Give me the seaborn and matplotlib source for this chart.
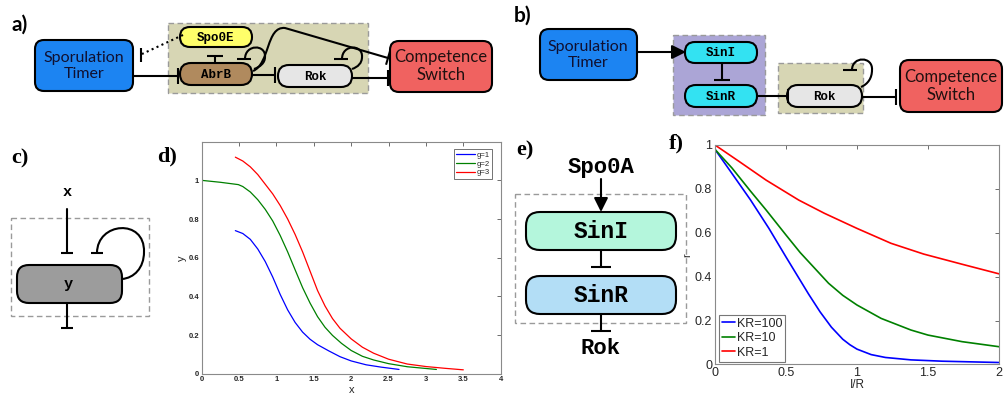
import numpy as np
import matplotlib
matplotlib.use("Agg")
import matplotlib.pyplot as plt
import seaborn as sns
import pandas as pd
from matplotlib.patches import FancyBboxPatch, Rectangle, PathPatch
from matplotlib.path import Path

# ---------------- data: panel d (steady state y vs input x) ----------------
d_labels = ["g=1", "g=2", "g=3"]
d_x_g1 = [0.45, 0.55, 0.65, 0.75, 0.85, 0.95, 1.05, 1.15, 1.25, 1.35, 1.45, 1.55, 1.7, 1.85, 2.0, 2.2, 2.4, 2.64]
d_y_g1 = [0.74, 0.725, 0.695, 0.645, 0.58, 0.50, 0.41, 0.33, 0.265, 0.215, 0.178, 0.15, 0.118, 0.088, 0.066, 0.046, 0.034, 0.022]
d_x_g2 = [0.0, 0.25, 0.49, 0.55, 0.65, 0.75, 0.85, 0.95, 1.05, 1.15, 1.25, 1.35, 1.45, 1.55, 1.65, 1.75, 1.87, 2.0, 2.15, 2.3, 2.5, 2.75, 3.0, 3.14]
d_y_g2 = [1.0, 0.99, 0.978, 0.968, 0.94, 0.9, 0.85, 0.79, 0.715, 0.63, 0.537, 0.445, 0.365, 0.295, 0.24, 0.198, 0.157, 0.12, 0.09, 0.071, 0.052, 0.036, 0.027, 0.022]
d_x_g3 = [0.45, 0.55, 0.65, 0.75, 0.85, 0.95, 1.05, 1.15, 1.25, 1.35, 1.45, 1.55, 1.65, 1.75, 1.85, 2.0, 2.15, 2.3, 2.5, 2.75, 3.0, 3.25, 3.5]
d_y_g3 = [1.12, 1.10, 1.07, 1.03, 0.98, 0.93, 0.87, 0.80, 0.72, 0.63, 0.53, 0.43, 0.35, 0.285, 0.235, 0.18, 0.137, 0.106, 0.075, 0.05, 0.037, 0.028, 0.02]

# ---------------- data: panel f (r vs I/R) ----------------
f_labels = ["KR=100", "KR=10", "KR=1"]
f_x_100 = [0.0, 0.12, 0.25, 0.38, 0.5, 0.58, 0.66, 0.74, 0.82, 0.9, 0.95, 1.0, 1.1, 1.2, 1.38, 1.6, 1.8, 2.0]
f_y_100 = [0.98, 0.87, 0.75, 0.62, 0.49, 0.405, 0.32, 0.24, 0.17, 0.115, 0.09, 0.07, 0.045, 0.032, 0.021, 0.015, 0.012, 0.009]
f_x_10 = [0.0, 0.12, 0.25, 0.36, 0.5, 0.6, 0.7, 0.8, 0.9, 1.0, 1.17, 1.38, 1.5, 1.74, 2.0]
f_y_10 = [0.98, 0.895, 0.79, 0.704, 0.59, 0.51, 0.44, 0.37, 0.315, 0.271, 0.21, 0.157, 0.134, 0.104, 0.081]
f_x_1 = [0.0, 0.17, 0.36, 0.59, 0.77, 1.0, 1.24, 1.47, 1.75, 2.0]
f_y_1 = [1.0, 0.925, 0.84, 0.749, 0.689, 0.62, 0.552, 0.503, 0.455, 0.413]

d_ticks_x = [0, 0.5, 1, 1.5, 2, 2.5, 3, 3.5, 4]
d_ticks_y = [0, 0.2, 0.4, 0.6, 0.8, 1]
f_ticks_x = [0, 0.5, 1, 1.5, 2]
f_ticks_y = [0, 0.2, 0.4, 0.6, 0.8, 1]

line_colors = ["#0000ff", "#008000", "#ff0000"]

sns.set_theme(style="white")
plt.rcParams["font.family"] = ["Liberation Sans", "DejaVu Sans"]

fig = plt.figure(figsize=(10.05, 3.97), dpi=100)

# ---------------- diagram layer in pixel coordinates ----------------
ax0 = fig.add_axes([0, 0, 1, 1])
ax0.set_xlim(0, 1005)
ax0.set_ylim(397, 0)
ax0.axis("off")

LW = 1.5
SANS = "Lato"
MONO = "Liberation Mono"
SERIF = "Liberation Serif"


def rbox(x0, y0, x1, y1, fc, r, ec="black", lw=LW, ls="-", z=2):
    p = FancyBboxPatch((x0, y0), x1 - x0, y1 - y0,
                       boxstyle=f"round,pad=0,rounding_size={r}",
                       fc=fc, ec=ec, lw=lw, ls=ls, zorder=z)
    ax0.add_patch(p)


def region(x0, y0, x1, y1, fc):
    ax0.add_patch(Rectangle((x0, y0), x1 - x0, y1 - y0, fc=fc, ec="#9a9a9a",
                            lw=1.0, ls=(0, (4, 2.5)), zorder=1))


def bar(p, direction, half=7):
    d = np.array(direction, float)
    d /= np.hypot(*d)
    n = np.array([-d[1], d[0]])
    p = np.array(p, float)
    a, b = p - n * half, p + n * half
    ax0.plot([a[0], b[0]], [a[1], b[1]], color="black", lw=LW,
             solid_capstyle="butt", zorder=3)


def inhibit(p0, p1, half=7, ls="-"):
    ax0.plot([p0[0], p1[0]], [p0[1], p1[1]], color="black", lw=LW, ls=ls,
             zorder=3)
    bar(p1, (p1[0] - p0[0], p1[1] - p0[1]), half)


def curve(verts, codes):
    ax0.add_patch(PathPatch(Path(verts, codes), fc="none", ec="black", lw=LW,
                            zorder=3))


def arrow(p0, p1):
    ax0.annotate("", xy=p1, xytext=p0,
                 arrowprops=dict(arrowstyle="-|>,head_length=0.7,head_width=0.35",
                                 lw=LW, color="black", shrinkA=0, shrinkB=0,
                                 mutation_scale=12), zorder=3)


def label(x, y, s, size, family, weight="normal", color="black", ha="center"):
    ax0.text(x, y, s, fontsize=size, family=family, weight=weight, color=color,
             ha=ha, va="center", zorder=4)


M4 = [Path.MOVETO, Path.CURVE4, Path.CURVE4, Path.CURVE4]

# ----- panel a -----
label(11, 25, "a)", 15, SANS, "bold", ha="left")
region(168, 23, 368, 93, "#d7d6b4")
rbox(35, 40, 133, 91, "#1c84f2", 9)
label(84, 66, "Sporulation\nTimer", 11.5, SANS, color="#101030")
rbox(390, 41, 492, 92, "#f06260", 9)
label(441, 66, "Competence\nSwitch", 12, SANS, color="#201010")
rbox(180, 27, 252, 47, "#ffff6a", 10)
label(216, 37.5, "Spo0E", 9, MONO, "bold")
rbox(180, 63, 252, 85, "#b08a5e", 11)
label(216, 74.5, "AbrB", 9, MONO, "bold")
rbox(278, 65, 352, 87, "#e6e6e6", 11)
label(315, 76.5, "Rok", 9, MONO, "bold")
inhibit((133, 76), (178, 76), 8)
# Spo0E acting on the timer (dotted, flat-headed)
ax0.plot([183, 142], [35, 54], color="black", lw=LW, ls=(0, (1, 1.6)), zorder=3)
bar((141, 55), (1, 0), 7)
inhibit((215, 63), (215, 56), 8)
inhibit((252, 75), (275, 75), 8)
inhibit((352, 78), (388, 78), 8)
# AbrB repression of the competence switch
curve([(253, 71), (270, 64), (266, 26), (285, 28)], M4)
inhibit((285, 28), (388, 58), 7)
# AbrB autorepression loop
curve([(245, 59), (245, 44), (266, 44), (265, 57)], M4)
curve([(265, 57), (265, 63), (260, 67), (254, 69)], M4)
bar((244, 59), (0, 1), 7)
# Rok autorepression loop
curve([(342, 59), (342, 44), (363, 44), (362, 57)], M4)
curve([(362, 57), (362, 63), (358, 67), (352, 69)], M4)
bar((341, 59), (0, 1), 7)

# ----- panel b -----
label(514, 16, "b)", 15, SANS, "bold", ha="left")
region(673, 35, 765, 115, "#aba5d6")
region(778, 63, 863, 113, "#d7d6b4")
rbox(540, 29, 637, 80, "#1c84f2", 9)
label(588, 55, "Sporulation\nTimer", 11.5, SANS, color="#101030")
rbox(900, 60, 1002, 112, "#f06260", 9)
label(951, 86, "Competence\nSwitch", 12, SANS, color="#201010")
rbox(685, 42, 757, 63, "#33e2f2", 10)
label(721, 53, "SinI", 9, MONO, "bold")
rbox(685, 85, 757, 107, "#33e2f2", 11)
label(721, 96.5, "SinR", 9, MONO, "bold")
rbox(787, 85, 862, 107, "#e6e6e6", 11)
label(824, 96.5, "Rok", 9, MONO, "bold")
arrow((637, 52), (686, 52))
inhibit((722, 63), (722, 80), 8)
inhibit((757, 96), (788, 96), 7)
inhibit((862, 97), (896, 97), 8)
curve([(852, 70), (852, 56), (873, 56), (872, 70)], M4)
curve([(872, 70), (872, 78), (868, 84), (861, 87)], M4)
bar((850, 70), (0, 1), 7)

# ----- panel c -----
label(11, 158, "c)", 16, SERIF, "bold", ha="left")
region(11, 218, 149, 316, "none")
rbox(17, 265, 122, 303, "#9c9c9c", 12)
label(68, 284, "y", 11, MONO, "bold")
label(67, 192, "x", 11, MONO, "bold")
inhibit((67, 209), (67, 253), 6)
inhibit((67, 303), (67, 328), 6)
curve([(97, 253), (97, 222), (145, 218), (144, 252)], M4)
curve([(144, 252), (144, 268), (134, 278), (122, 279)], M4)
bar((97, 253), (0, 1), 6)

# ----- panel e -----
label(516, 150, "e)", 16, SERIF, "bold", ha="left")
region(515, 194, 686, 323, "none")
label(601, 167, "Spo0A", 16, MONO, "bold")
arrow((601, 179), (601, 212))
rbox(526, 212, 676, 250, "#b4f6dc", 14)
label(601, 231.5, "SinI", 16.5, MONO, "bold")
rbox(526, 276, 676, 314, "#b3def6", 14)
label(601, 295.5, "SinR", 16.5, MONO, "bold")
inhibit((601, 250), (601, 267), 10)
inhibit((601, 314), (601, 331), 10)
label(601, 349, "Rok", 16, MONO, "bold")

# ----- panel labels d, f -----
label(157, 156, "d)", 16, SERIF, "bold", ha="left")
label(669, 143, "f)", 16, SERIF, "bold", ha="left")


def matlab_style(ax, tsize):
    for s in ax.spines.values():
        s.set_visible(True)
        s.set_color("#8a8a8a")
        s.set_linewidth(0.8)
    ax.tick_params(direction="in", top=True, right=True, length=3,
                   width=0.6, color="#555555", labelsize=tsize, pad=2)
    ax.set_facecolor("white")


# ---------------- panel d ----------------
axd = fig.add_axes([0.2007, 0.0587, 0.2975, 0.5844])
dd = pd.concat([
    pd.DataFrame({"x": d_x_g1, "y": d_y_g1, "g": d_labels[0]}),
    pd.DataFrame({"x": d_x_g2, "y": d_y_g2, "g": d_labels[1]}),
    pd.DataFrame({"x": d_x_g3, "y": d_y_g3, "g": d_labels[2]}),
])
sns.lineplot(data=dd, x="x", y="y", hue="g", palette=line_colors,
             estimator=None, sort=False, lw=0.9, ax=axd)
axd.set_xlim(0, 4)
axd.set_ylim(0, 1.2)
axd.set_xticks(d_ticks_x)
axd.set_xticklabels([f"{v:g}" for v in d_ticks_x])
axd.set_yticks(d_ticks_y)
axd.set_yticklabels([f"{v:g}" for v in d_ticks_y])
matlab_style(axd, 5.5)
for t in axd.get_xticklabels() + axd.get_yticklabels():
    t.set_fontweight("bold")
axd.set_xlabel("x", fontsize=8, labelpad=1)
axd.set_ylabel("y", fontsize=8, labelpad=1)
leg = axd.legend(title=None, loc="upper right", bbox_to_anchor=(0.985, 0.985),
                 fontsize=5.5, handlelength=2.4, handletextpad=0.3,
                 borderpad=0.3, labelspacing=0.2, frameon=True, fancybox=False)
leg.get_frame().set_edgecolor("#333333")
leg.get_frame().set_linewidth(0.6)

# ---------------- panel f ----------------
axf = fig.add_axes([0.7114, 0.0819, 0.2826, 0.5529])
ff = pd.concat([
    pd.DataFrame({"x": f_x_100, "y": f_y_100, "KR": f_labels[0]}),
    pd.DataFrame({"x": f_x_10, "y": f_y_10, "KR": f_labels[1]}),
    pd.DataFrame({"x": f_x_1, "y": f_y_1, "KR": f_labels[2]}),
])
sns.lineplot(data=ff, x="x", y="y", hue="KR", palette=line_colors,
             estimator=None, sort=False, lw=1.2, ax=axf)
axf.set_xlim(0, 2)
axf.set_ylim(0, 1)
axf.set_xticks(f_ticks_x)
axf.set_xticklabels([f"{v:g}" for v in f_ticks_x])
axf.set_yticks(f_ticks_y)
axf.set_yticklabels([f"{v:g}" for v in f_ticks_y])
matlab_style(axf, 9)
axf.set_xlabel("I/R", fontsize=8.5, labelpad=0)
axf.set_ylabel("r", fontsize=8, labelpad=2)
leg = axf.legend(title=None, loc="lower left", bbox_to_anchor=(0.015, 0.012),
                 fontsize=9, handlelength=1.0, handletextpad=0.15,
                 borderpad=0.25, labelspacing=0.2, borderaxespad=0,
                 frameon=True, fancybox=False)
leg.get_frame().set_edgecolor("#555555")
leg.get_frame().set_linewidth(0.8)

fig.savefig("out.png", dpi=100, facecolor="white")
